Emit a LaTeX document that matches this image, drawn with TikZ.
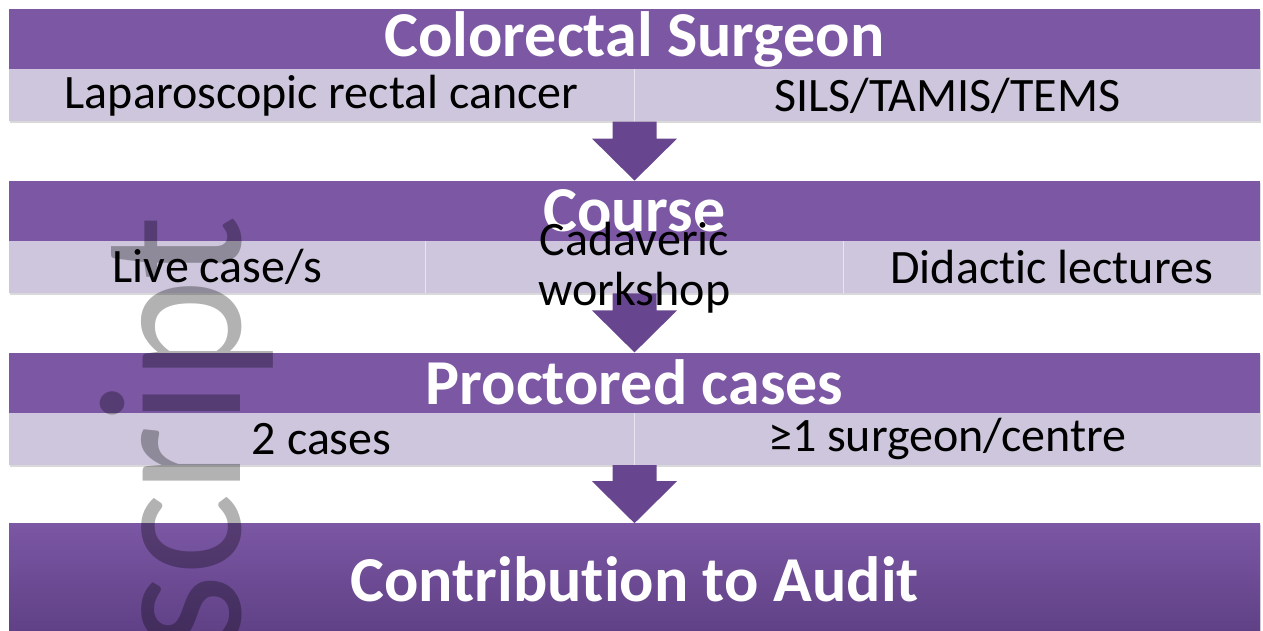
\documentclass[tikz,border=0pt]{standalone}
\usepackage{fontspec}
\setmainfont{Carlito}[Ligatures={NoCommon}]
\usetikzlibrary{positioning,calc,shadows}
\definecolor{barpurple}{HTML}{7B57A4}
\definecolor{barlilac}{HTML}{CEC6DC}
\definecolor{arrowpurple}{HTML}{68468F}
\definecolor{deeppurple}{HTML}{5F4085}
\tikzset{
  stage/.style={ % purple heading bar of one step
    rectangle, fill=barpurple, minimum width=1251pt, minimum height=60pt,
    inner sep=0pt, text=white, font=\fontsize{64}{70}\selectfont\bfseries,
    drop shadow={opacity=0.25, shadow xshift=1pt, shadow yshift=-2pt}
  },
  detail/.style={ % light bar under a heading
    rectangle, fill=barlilac, minimum width=1251pt, minimum height=52pt,
    inner sep=0pt,
    drop shadow={opacity=0.3, shadow xshift=1pt, shadow yshift=-2pt}
  },
  item/.style={ % text in a light bar
    inner sep=0pt, text=black, align=center,
    font=\fontsize{48}{50}\selectfont
  },
  divider/.style={white!55!barlilac, line width=1pt},
  blockarrow/.style={fill=arrowpurple, draw=none},
  watermark/.style={
    inner sep=0pt, text=black, text opacity=0.3,
    font=\fontsize{204}{240}\selectfont
  }
}
\begin{document}
\begin{tikzpicture}[x=1pt, y=-1pt]
  \useasboundingbox (0,0) rectangle (1263,630);
  \clip (0,0) rectangle (1263,630);

  % the four steps
  \node[stage] (surgeon) at (634.5,39) {Colorectal Surgeon};
  \node[detail] (row1) [below=0pt of surgeon] {};
  \node[stage] (course) [below=59pt of row1] {Course};
  \node[detail] (row2) [below=0pt of course] {};
  \node[stage] (proctor) [below=59pt of row2] {Proctored cases};
  \node[detail] (row3) [below=0pt of proctor] {};
  \node[stage, minimum height=111pt, fill=none,
    top color=barpurple, bottom color=deeppurple] (audit) [below=58pt of row3] {Contribution to Audit};

  % cell borders
  \draw[divider] (row1.north) -- (row1.south);
  \draw[divider] ($(row2.north west)!1/3!(row2.north east)$) -- ($(row2.south west)!1/3!(row2.south east)$);
  \draw[divider] ($(row2.north west)!2/3!(row2.north east)$) -- ($(row2.south west)!2/3!(row2.south east)$);
  \draw[divider] (row3.north) -- (row3.south);

  % arrows between the steps
  \foreach \from/\to in {row1/course, row2/proctor, row3/audit}
    \path[blockarrow] let \p1 = (\from.south), \p2 = (\to.north) in
      (\x1-22pt,\y1) -- (\x1+22pt,\y1) -- (\x1+22pt,\y2+42pt) -- (\x1+42.5pt,\y2+42pt)
      -- (\x1,\y2) -- (\x1-42.5pt,\y2+42pt) -- (\x1-22pt,\y2+42pt) -- cycle;

  % texts of the cells
  \node[item] (lap) at ($(row1.west)!0.25!(row1.east)$) {Laparoscopic rectal cancer};
  \node[item] (sils) at ($(row1.west)!0.75!(row1.east)$) {SILS/TAMIS/TEMS};
  \node[item] (live) at ($(row2.west)!1/6!(row2.east)$) {Live case/s};
  \node[item] (cadaver) at (row2.center) {Cadaveric\\workshop};
  \node[item] (lectures) at ($(row2.west)!5/6!(row2.east)$) {Didactic lectures};
  \node[item] (two) at ($(row3.west)!0.25!(row3.east)$) {2 cases};
  \node[item] (centre) at ($(row3.west)!0.75!(row3.east)$) {≥1 surgeon/centre};

  \node[watermark, rotate=90, xscale=0.95, anchor=base east] (mark) at (240,215) {script};
\end{tikzpicture}
\end{document}
